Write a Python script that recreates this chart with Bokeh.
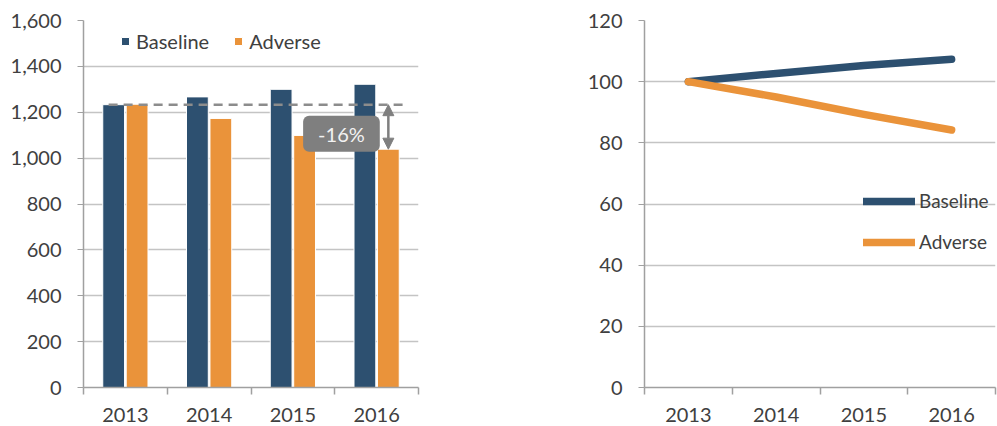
from bokeh.plotting import figure
from bokeh.models import (FixedTicker, NumeralTickFormatter, Legend, LegendItem, Label,
                          Arrow, NormalHead, Spacer, ColumnDataSource)
from bokeh.layouts import row
from bokeh.embed import file_html
from bokeh.resources import INLINE

# ---------------- data ----------------
years = ["2013", "2014", "2015", "2016"]
baseline_level = [1233, 1267, 1300, 1322]
adverse_level = [1235, 1173, 1099, 1039]
baseline_index = [100, 102.7, 105.3, 107.3]
adverse_index = [100, 95.0, 89.3, 84.2]
left_y_ticks = [0, 200, 400, 600, 800, 1000, 1200, 1400, 1600]
right_y_ticks = [0, 20, 40, 60, 80, 100, 120]

NAVY = "#2D5070"
ORANGE = "#EA933A"
GRID = "#C4C4C4"
AXIS = "#A0A0A0"
TEXT = "#404040"
FONT = "Lato"
FS = "20px"

xc = [i + 0.5 for i in range(len(years))]
bounds = list(range(len(years) + 1))


def style(p, yticks):
    p.outline_line_color = None
    p.xgrid.visible = False
    p.ygrid.grid_line_color = GRID
    p.ygrid.grid_line_width = 1.3
    p.ygrid.ticker = FixedTicker(ticks=yticks)
    ya = p.yaxis[0]
    ya.ticker = FixedTicker(ticks=yticks)
    ya.axis_line_color = AXIS
    ya.axis_line_width = 1.5
    ya.major_tick_line_color = AXIS
    ya.major_tick_out = 6
    ya.major_tick_in = 0
    ya.minor_tick_line_color = None
    ya.major_label_text_font = FONT
    ya.major_label_text_font_size = FS
    ya.major_label_text_color = TEXT
    ya.major_label_standoff = 16
    xa = p.xaxis[0]
    xa.ticker = FixedTicker(ticks=xc, minor_ticks=bounds)
    xa.major_label_overrides = {x: y for x, y in zip(xc, years)}
    xa.axis_line_color = AXIS
    xa.axis_line_width = 1.5
    xa.major_tick_out = 0
    xa.major_tick_in = 0
    xa.minor_tick_out = 7
    xa.minor_tick_in = 0
    xa.minor_tick_line_color = AXIS
    xa.minor_tick_line_width = 1.5
    xa.major_label_text_font = FONT
    xa.major_label_text_font_size = FS
    xa.major_label_text_color = TEXT
    xa.major_label_standoff = 13


# ---------------- left: levels ----------------
p1 = figure(width=428, height=424, x_range=(0, len(years)), y_range=(0, 1600),
            output_backend="svg", toolbar_location=None,
            min_border_left=83, min_border_right=10, min_border_top=19, min_border_bottom=37)
style(p1, left_y_ticks)
p1.yaxis[0].formatter = NumeralTickFormatter(format="0,0")

src = ColumnDataSource(dict(xb=[x - 0.14 for x in xc], xa=[x + 0.14 for x in xc],
                            base=baseline_level, adv=adverse_level))
rb = p1.vbar(x="xb", top="base", width=0.26, source=src, fill_color=NAVY,
             line_color="white", line_width=1)
ra = p1.vbar(x="xa", top="adv", width=0.26, source=src, fill_color=ORANGE,
             line_color="white", line_width=1)

ref_level = baseline_level[0]
p1.line(x=[xc[0] - 0.2, xc[-1] + 0.31], y=[ref_level, ref_level], line_color="#8C8C8C",
        line_width=2.5, line_dash="9 6")

last = len(years) - 1
pct = (adverse_level[last] - ref_level) / ref_level * 100
p1.add_layout(Arrow(start=NormalHead(size=11, fill_color="#7F7F7F", line_color="#7F7F7F"),
                    end=NormalHead(size=11, fill_color="#7F7F7F", line_color="#7F7F7F"),
                    x_start=xc[last] + 0.14, y_start=ref_level,
                    x_end=xc[last] + 0.14, y_end=adverse_level[last],
                    line_color="#7F7F7F", line_width=2.5))
p1.add_layout(Label(x=last + 0.08, y=(ref_level + adverse_level[last]) / 2 - 30,
                    text=f"{pct:.0f}%", text_align="center", text_baseline="middle",
                    text_font=FONT, text_font_size="20px", text_color="#F2F2F2",
                    background_fill_color="#7F7F7F", border_radius=6,
                    padding=dict(left=15, right=15, top=6, bottom=6)))

leg1 = Legend(items=[LegendItem(label="Baseline", renderers=[rb]),
                     LegendItem(label="Adverse", renderers=[ra])],
              orientation="horizontal", location=(37, 334),
              glyph_width=10, glyph_height=10, label_standoff=6, spacing=24,
              padding=0, margin=0, background_fill_alpha=0, border_line_color=None,
              label_text_font=FONT, label_text_font_size=FS, label_text_color=TEXT)
p1.add_layout(leg1)

# ---------------- right: index ----------------
p2 = figure(width=413, height=424, x_range=(0, len(years)), y_range=(0, 120),
            output_backend="svg", toolbar_location=None,
            min_border_left=60, min_border_right=2, min_border_top=20, min_border_bottom=35)
style(p2, right_y_ticks)

lb = p2.line(x=xc, y=baseline_index, line_color=NAVY, line_width=7.5,
             line_cap="round", line_join="round")
la = p2.line(x=xc, y=adverse_index, line_color=ORANGE, line_width=7.5,
             line_cap="round", line_join="round")

leg2 = Legend(items=[LegendItem(label="Baseline", renderers=[lb]),
                     LegendItem(label="Adverse", renderers=[la])],
              location=(219, 134), glyph_width=52, glyph_height=20, label_standoff=4,
              spacing=18, padding=0, margin=0, background_fill_alpha=0,
              border_line_color=None,
              label_text_font=FONT, label_text_font_size="19px", label_text_color=TEXT)
p2.add_layout(leg2)

layout = row(p1, Spacer(width=156, height=424), p2)
open("out.html", "w").write(file_html(layout, INLINE))
